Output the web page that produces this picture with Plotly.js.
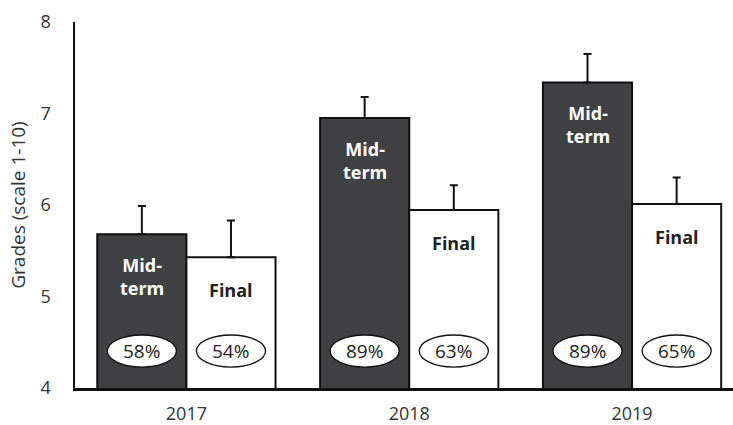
<!DOCTYPE html>
<html>
<head>
<meta charset="utf-8">
<script src="https://cdn.plot.ly/plotly-3.0.1.min.js"></script>
<style>html,body{margin:0;padding:0;background:#fff;}#chart{width:733px;height:425px;}</style>
</head>
<body>
<div id="chart"></div>
<script>
const years = ['2017', '2018', '2019'];
const midtermGrades = [5.68, 6.95, 7.34];
const midtermErr = [0.31, 0.23, 0.31];
const finalGrades = [5.43, 5.945, 6.01];
const finalErr = [0.40, 0.27, 0.29];
const midtermPct = ['58%', '89%', '89%'];
const finalPct = ['54%', '63%', '65%'];
const midtermLabel = 'Mid-<br>term';
const finalLabel = 'Final';

const FONT = '"Open Sans", sans-serif';
const barLine = {color: '#111', width: 2};

const traces = [
  {
    type: 'bar', name: 'Mid-term', x: years, y: midtermGrades,
    marker: {color: '#404142', line: barLine},
    error_y: {type: 'data', array: midtermErr, arrayminus: midtermErr.map(() => 0), symmetric: false,
              color: '#111', thickness: 2, width: 4},
    hoverinfo: 'skip'
  },
  {
    type: 'bar', name: 'Final', x: years, y: finalGrades,
    marker: {color: '#ffffff', line: barLine},
    error_y: {type: 'data', array: finalErr, arrayminus: finalErr.map(() => 0), symmetric: false,
              color: '#111', thickness: 2, width: 4},
    hoverinfo: 'skip'
  }
];

const annotations = [];
const shapes = [];
const ellY = 4.404, ellH = 0.175, ellW = 0.155;
years.forEach((yr, i) => {
  const xm = i - 0.2, xf = i + 0.2;
  annotations.push({x: xm, y: midtermGrades[i], xref: 'x', yref: 'y', text: '<b>' + midtermLabel + '</b>',
    showarrow: false, yanchor: 'top', yshift: -17, font: {family: FONT, size: 18, color: '#fff'}});
  annotations.push({x: xf, y: finalGrades[i], xref: 'x', yref: 'y', text: '<b>' + finalLabel + '</b>',
    showarrow: false, yanchor: 'middle', yshift: -33, font: {family: FONT, size: 18, color: '#222'}});
  [[xm, midtermPct[i]], [xf, finalPct[i]]].forEach(([xc, t]) => {
    shapes.push({type: 'circle', xref: 'x', yref: 'y', x0: xc - ellW, x1: xc + ellW,
      y0: ellY - ellH, y1: ellY + ellH, fillcolor: '#fff', line: {color: '#111', width: 1.3}, layer: 'above'});
    annotations.push({x: xc, y: ellY, xref: 'x', yref: 'y', text: t, showarrow: false,
      font: {family: FONT, size: 19, color: '#222'}});
  });
});

const layout = {
  width: 733, height: 425,
  margin: {l: 74.5, r: 0, t: 22, b: 37},
  paper_bgcolor: '#fff', plot_bgcolor: '#fff',
  showlegend: false,
  barmode: 'group', bargap: 0.2, bargroupgap: 0,
  font: {family: FONT, color: '#333'},
  xaxis: {type: 'category', range: [-0.5, 2.453], showgrid: false, zeroline: false,
    showline: true, linecolor: '#111', linewidth: 2.5, ticks: '',
    ticklabelstandoff: 8, tickfont: {family: FONT, size: 18, color: '#333'}},
  yaxis: {range: [4, 8], tickvals: [4, 5, 6, 7, 8], showgrid: false, zeroline: false,
    showline: true, linecolor: '#111', linewidth: 2.5, ticks: '',
    ticklabelstandoff: 18, tickfont: {family: FONT, size: 18, color: '#333'},
    title: {text: 'Grades (scale 1-10)', standoff: 10, font: {family: FONT, size: 19, color: '#333'}}},
  shapes: shapes,
  annotations: annotations
};

Plotly.newPlot('chart', traces, layout, {displayModeBar: false, staticPlot: true});
</script>
</body>
</html>
